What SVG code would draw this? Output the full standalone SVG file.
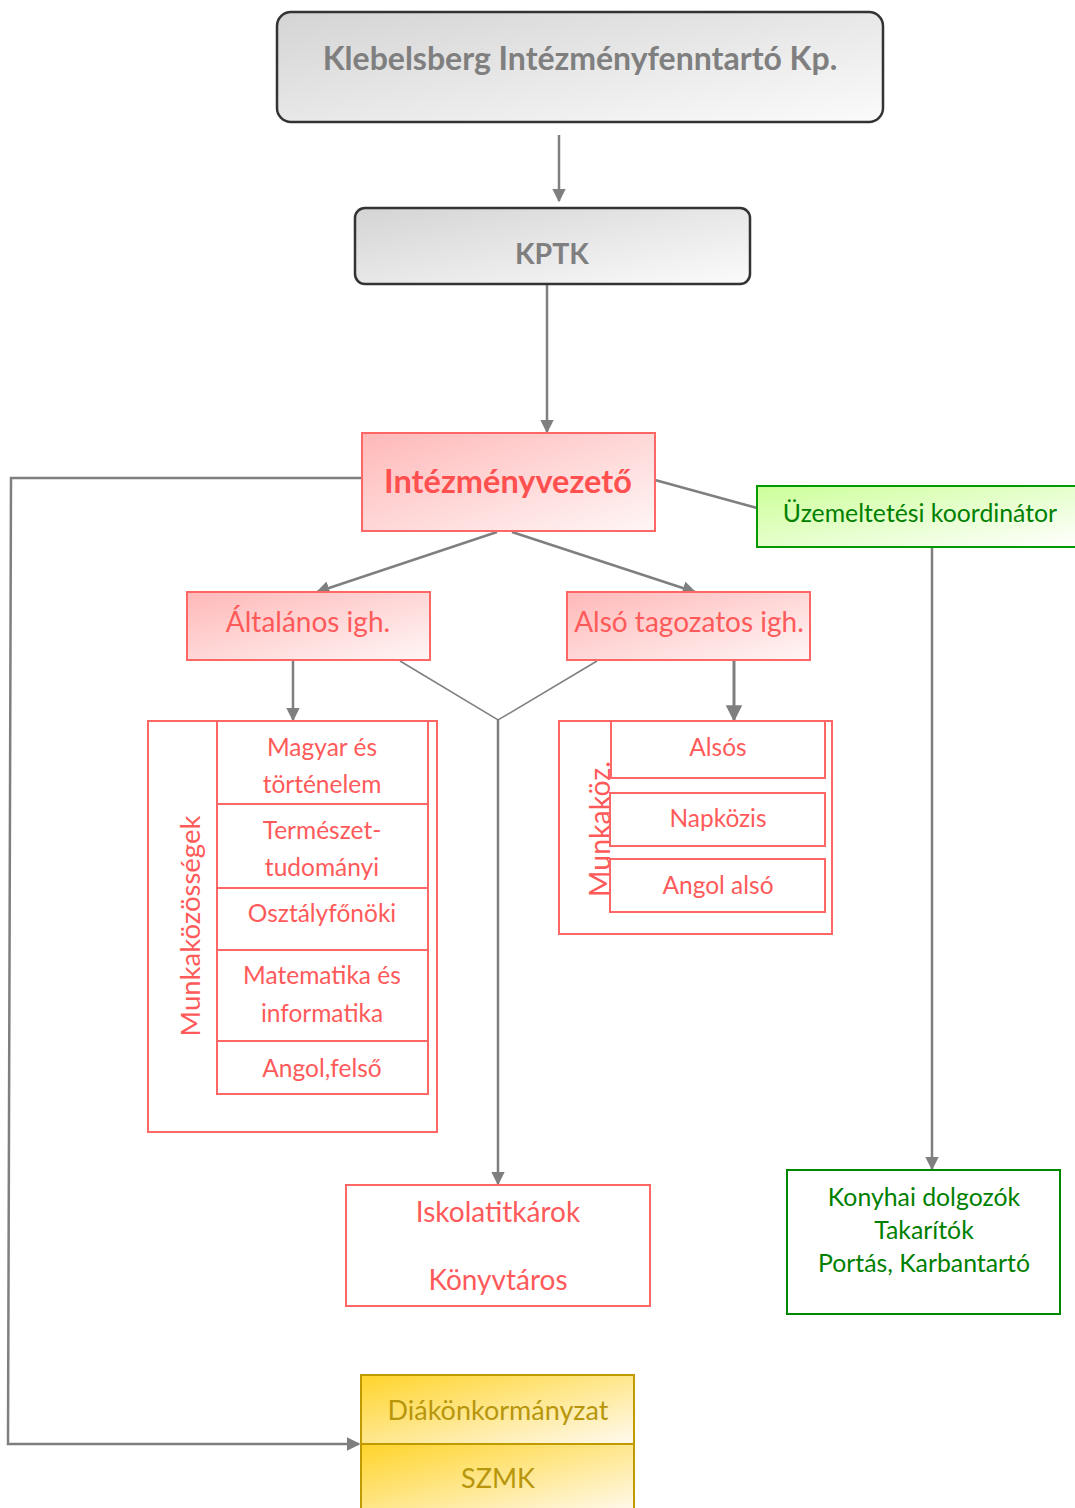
<svg xmlns="http://www.w3.org/2000/svg" width="1075" height="1508" viewBox="0 0 1075 1508">
<defs>
<linearGradient id="gGray" x1="0" y1="0" x2="1" y2="1"><stop offset="0" stop-color="#d4d4d4"/><stop offset="1" stop-color="#fbfbfb"/></linearGradient>
<linearGradient id="gRed" x1="0" y1="0" x2="1" y2="1"><stop offset="0" stop-color="#ffb8b8"/><stop offset="1" stop-color="#fff6f6"/></linearGradient>
<linearGradient id="gGreen" x1="0" y1="0" x2="1" y2="1"><stop offset="0" stop-color="#ccff99"/><stop offset="1" stop-color="#ffffff"/></linearGradient>
<linearGradient id="gGold" x1="0" y1="0" x2="1" y2="1"><stop offset="0" stop-color="#ffd42a"/><stop offset="1" stop-color="#fffaf0"/></linearGradient>
<marker id="arr" viewBox="0 0 10 10" refX="9" refY="5" markerWidth="5.5" markerHeight="5.5" markerUnits="strokeWidth" orient="auto"><path d="M0,0 L10,5 L0,10 z" fill="#7f7f7f"/></marker>
</defs>
<style>
text{font-family:Lato,"Liberation Sans",sans-serif;text-anchor:middle}
.gray{fill:url(#gGray);stroke:#333;stroke-width:2.5}
.gt{fill:#7f7f7f;font-weight:bold}
.red{fill:url(#gRed);stroke:#ff6666;stroke-width:2}
.rb{fill:none;stroke:#ff6666;stroke-width:2}
.rt{fill:#ff5a5a;font-size:24.5px}
.grn{fill:url(#gGreen);stroke:#009900;stroke-width:2}
.gb{fill:none;stroke:#008800;stroke-width:2}
.gtx{fill:#008000;font-size:24.8px}
.gold{fill:url(#gGold);stroke:#bf9a00;stroke-width:2}
.yt{fill:#b8960c;font-size:27px}
.c{fill:none;stroke:#7f7f7f;stroke-width:2.5}
.ca{fill:none;stroke:#7f7f7f;stroke-width:2.5;marker-end:url(#arr)}
</style>
<g id="connectors">
<line class="ca" x1="559" y1="135" x2="559" y2="201"/>
<line class="ca" x1="547" y1="285" x2="547" y2="432"/>
<polyline class="ca" points="362,478 11,478 8,1444 359,1444"/>
<polyline class="c" points="655,480 757,508"/>
<line class="ca" x1="932" y1="547" x2="932" y2="1169"/>
<line class="ca" x1="497" y1="532" x2="317" y2="592"/>
<line class="ca" x1="512" y1="532" x2="695" y2="592"/>
<line class="ca" x1="293" y1="661" x2="293" y2="720"/>
<line class="ca" x1="734" y1="661" x2="734" y2="720" style="stroke-width:3"/>
<polyline class="c" points="400,661 498,720 597,661" style="stroke-width:1.5"/>
<line class="ca" x1="498" y1="720" x2="498" y2="1184"/>
</g>
<g id="n-klebelsberg">
<rect class="gray" x="277" y="12" width="606" height="110" rx="14"/>
<text class="gt" x="580" y="70" font-size="32">Klebelsberg Intézményfenntartó Kp.</text>
</g>
<g id="n-kptk">
<rect class="gray" x="355" y="208" width="395" height="76" rx="10"/>
<text class="gt" x="552" y="264" font-size="28.5">KPTK</text>
</g>
<g id="n-intezmenyvezeto">
<rect class="red" x="362" y="433" width="293" height="98"/>
<text x="508" y="493" font-size="32.5" font-weight="bold" fill="#ff5050">Intézményvezető</text>
</g>
<g id="n-uzemeltetesi">
<rect class="grn" x="757" y="486" width="322" height="61"/>
<text class="gtx" x="920" y="522">Üzemeltetési koordinátor</text>
</g>
<g id="n-altalanos">
<rect class="red" x="187" y="592" width="243" height="68"/>
<text class="rt" x="308" y="632" style="font-size:28px">Általános igh.</text>
</g>
<g id="n-also">
<rect class="red" x="567" y="592" width="243" height="68"/>
<text class="rt" x="689" y="632" style="font-size:28px">Alsó tagozatos igh.</text>
</g>
<g id="n-munkakozossegek">
<rect class="rb" x="148" y="721" width="289" height="411"/>
<text class="rt" transform="translate(200,926) rotate(-90)" style="font-size:27.5px">Munkaközösségek</text>
<rect class="rb" x="217" y="721" width="211" height="83"/>
<text class="rt" x="322" y="756">Magyar és</text>
<text class="rt" x="322" y="793">történelem</text>
<rect class="rb" x="217" y="804" width="211" height="84"/>
<text class="rt" x="322" y="839">Természet-</text>
<text class="rt" x="322" y="876">tudományi</text>
<rect class="rb" x="217" y="888" width="211" height="62"/>
<text class="rt" x="322" y="922">Osztályfőnöki</text>
<rect class="rb" x="217" y="950" width="211" height="91"/>
<text class="rt" x="322" y="984">Matematika és</text>
<text class="rt" x="322" y="1022">informatika</text>
<rect class="rb" x="217" y="1041" width="211" height="53"/>
<text class="rt" x="322" y="1077">Angol,felső</text>
</g>
<g id="n-munkakoz">
<rect class="rb" x="559" y="721" width="273" height="213"/>
<text class="rt" transform="translate(610,829) rotate(-90)" style="font-size:28.5px">Munkaköz.</text>
<rect class="rb" x="611" y="721" width="214" height="57"/>
<text class="rt" x="718" y="756">Alsós</text>
<rect class="rb" x="610" y="793" width="215" height="53"/>
<text class="rt" x="718" y="827">Napközis</text>
<rect class="rb" x="610" y="859" width="215" height="53"/>
<text class="rt" x="718" y="894">Angol alsó</text>
</g>
<g id="n-iskolatitkarok">
<rect class="rb" x="346" y="1185" width="304" height="121"/>
<text class="rt" x="498" y="1222" style="font-size:28px">Iskolatitkárok</text>
<text class="rt" x="498" y="1290" style="font-size:28px">Könyvtáros</text>
</g>
<g id="n-konyhai">
<rect class="gb" x="787" y="1170" width="273" height="144"/>
<text class="gtx" x="924" y="1206">Konyhai dolgozók</text>
<text class="gtx" x="924" y="1239">Takarítók</text>
<text class="gtx" x="924" y="1272">Portás, Karbantartó</text>
</g>
<g id="n-diakonkormanyzat">
<rect class="gold" x="361" y="1375" width="273" height="69"/>
<text class="yt" x="498" y="1420">Diákönkormányzat</text>
</g>
<g id="n-szmk">
<rect class="gold" x="361" y="1444" width="273" height="70"/>
<text class="yt" x="498" y="1488">SZMK</text>
</g>
</svg>
